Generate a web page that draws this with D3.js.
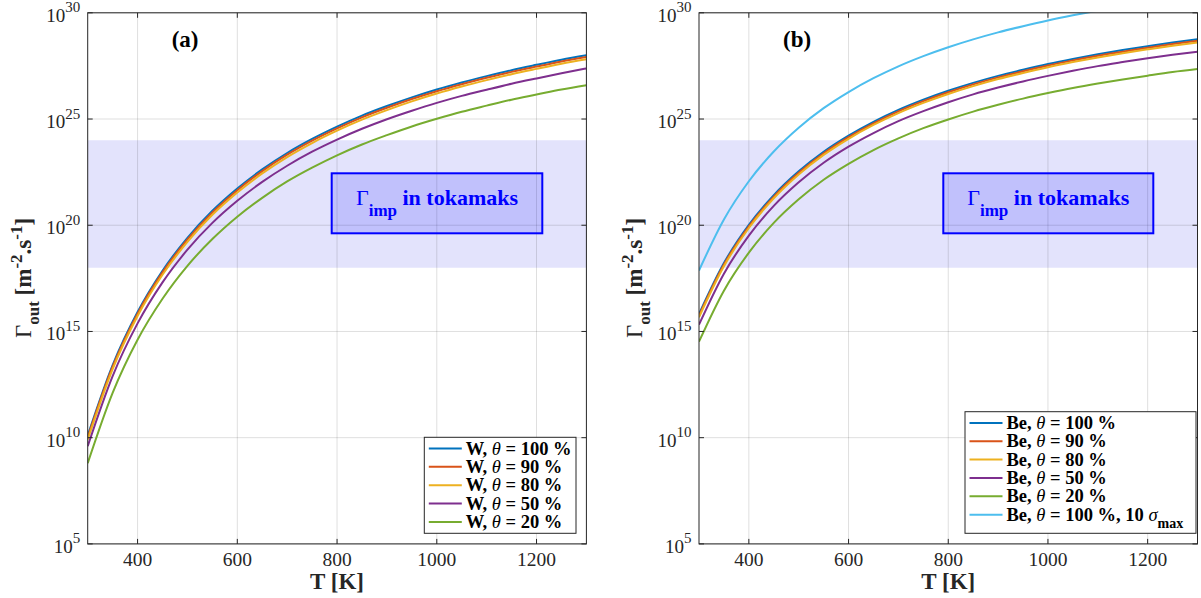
<!DOCTYPE html>
<html>
<head>
<meta charset="utf-8">
<script src="https://cdn.jsdelivr.net/npm/d3@7"></script>
<style>
  html, body { margin: 0; padding: 0; background: #fff; }
  svg { display: block; font-family: "Liberation Serif", "DejaVu Serif", serif; }
</style>
</head>
<body>
<svg id="chart" width="1201" height="598"></svg>
<script>
// temperature grid [K]
const temps = [300, 350, 400, 450, 500, 550, 600, 650, 700, 750, 800, 850, 900, 950, 1000, 1050, 1100, 1150, 1200, 1250, 1300];

// log10 of Gamma_out [m^-2 s^-1] — panel (a), W
const w100 = [10.10, 13.42, 15.92, 17.86, 19.41, 20.68, 21.73, 22.63, 23.40, 24.06, 24.64, 25.16, 25.61, 26.02, 26.39, 26.72, 27.02, 27.30, 27.55, 27.79, 28.00];
const w90  = [10.02, 13.34, 15.84, 17.78, 19.33, 20.60, 21.65, 22.55, 23.32, 23.98, 24.56, 25.08, 25.53, 25.94, 26.31, 26.64, 26.94, 27.22, 27.47, 27.71, 27.92];
const w80  = [9.91, 13.23, 15.73, 17.67, 19.22, 20.49, 21.54, 22.44, 23.21, 23.87, 24.45, 24.97, 25.42, 25.83, 26.20, 26.53, 26.83, 27.11, 27.36, 27.60, 27.81];
const w50  = [9.60, 12.90, 15.38, 17.31, 18.85, 20.11, 21.15, 22.04, 22.80, 23.46, 24.03, 24.54, 24.99, 25.39, 25.76, 26.09, 26.38, 26.66, 26.91, 27.15, 27.38];
const w20  = [8.80, 12.11, 14.61, 16.54, 18.09, 19.35, 20.40, 21.29, 22.06, 22.71, 23.29, 23.80, 24.24, 24.65, 25.01, 25.34, 25.63, 25.91, 26.15, 26.39, 26.59];

// panel (b), Be
const be100 = [15.82, 18.22, 20.02, 21.42, 22.54, 23.46, 24.22, 24.87, 25.43, 25.91, 26.33, 26.70, 27.03, 27.32, 27.59, 27.83, 28.05, 28.25, 28.43, 28.60, 28.75];
const be90  = [15.75, 18.15, 19.95, 21.35, 22.47, 23.39, 24.15, 24.80, 25.36, 25.84, 26.26, 26.63, 26.96, 27.25, 27.52, 27.76, 27.98, 28.17, 28.36, 28.53, 28.68];
const be80  = [15.67, 18.07, 19.87, 21.27, 22.39, 23.31, 24.07, 24.72, 25.28, 25.76, 26.18, 26.55, 26.88, 27.17, 27.44, 27.68, 27.90, 28.10, 28.28, 28.45, 28.60];
const be50  = [15.32, 17.72, 19.51, 20.91, 22.02, 22.94, 23.70, 24.34, 24.90, 25.37, 25.79, 26.16, 26.48, 26.77, 27.03, 27.27, 27.49, 27.68, 27.86, 28.02, 28.17];
const be20  = [14.52, 16.92, 18.71, 20.11, 21.22, 22.14, 22.89, 23.54, 24.09, 24.57, 24.98, 25.35, 25.67, 25.96, 26.22, 26.46, 26.67, 26.86, 27.04, 27.21, 27.35];
const be100x10 = [17.87, 20.27, 22.07, 23.47, 24.59, 25.51, 26.27, 26.92, 27.48, 27.96, 28.38, 28.75, 29.08, 29.37, 29.64, 29.88, 30.10, 30.30, 30.48, 30.65, 30.80];

const xTicks = [400, 600, 800, 1000, 1200];
const yTickExp = [5, 10, 15, 20, 25, 30];
const bandExp = [18, 24]; // impurity flux range in tokamaks

const COLORS = ['#0072BD', '#D95319', '#EDB120', '#7E2F8E', '#77AC30', '#4DBEEE'];

const svg = d3.select('#chart');
const TOP = 12.8, BOTTOM = 543.9;

const panels = [
  {
    id: 'a', left: 87.7, right: 586.4, tag: '(a)',
    series: [
      { name: 'W', th: '100', v: w100 },
      { name: 'W', th: '90', v: w90 },
      { name: 'W', th: '80', v: w80 },
      { name: 'W', th: '50', v: w50 },
      { name: 'W', th: '20', v: w20 },
    ],
    legend: { x: 424.3, y: 437.3, w: 151.7, h: 96 },
    box: { x: 331.7, w: 210.6 },
  },
  {
    id: 'b', left: 699, right: 1197.5, tag: '(b)',
    series: [
      { name: 'Be', th: '100', v: be100 },
      { name: 'Be', th: '90', v: be90 },
      { name: 'Be', th: '80', v: be80 },
      { name: 'Be', th: '50', v: be50 },
      { name: 'Be', th: '20', v: be20 },
      { name: 'Be', th: '100', v: be100x10, sigma: true },
    ],
    legend: { x: 965, y: 411.7, w: 231, h: 121.6 },
    box: { x: 943.3, w: 210 },
  },
];

panels.forEach(drawPanel);

function drawPanel(p) {
  const x = d3.scaleLinear().domain([300, 1300]).range([p.left, p.right]);
  const y = d3.scaleLog().domain([1e5, 1e30]).range([BOTTOM, TOP]);
  const g = svg.append('g');

  g.append('clipPath').attr('id', 'clip-' + p.id)
    .append('rect').attr('x', p.left).attr('y', TOP)
    .attr('width', p.right - p.left).attr('height', BOTTOM - TOP);

  // shaded band
  g.append('rect')
    .attr('x', p.left).attr('width', p.right - p.left)
    .attr('y', y(Math.pow(10, bandExp[1])))
    .attr('height', y(Math.pow(10, bandExp[0])) - y(Math.pow(10, bandExp[1])))
    .attr('fill', '#e3e3fc');

  // grid
  const grid = g.append('g').attr('stroke', '#262626').attr('stroke-opacity', 0.15).attr('stroke-width', 1);
  xTicks.forEach((t) => {
    grid.append('line').attr('x1', x(t)).attr('x2', x(t)).attr('y1', TOP).attr('y2', BOTTOM);
  });
  yTickExp.forEach((e) => {
    grid.append('line').attr('x1', p.left).attr('x2', p.right)
      .attr('y1', y(Math.pow(10, e))).attr('y2', y(Math.pow(10, e)));
  });

  // curves
  const line = d3.line()
    .x((d) => x(d[0]))
    .y((d) => y(Math.pow(10, d[1])))
    .curve(d3.curveMonotoneX);
  const curves = g.append('g').attr('clip-path', `url(#clip-${p.id})`);
  p.series.forEach((s, i) => {
    curves.append('path')
      .datum(temps.map((t, k) => [t, s.v[k]]))
      .attr('d', line)
      .attr('fill', 'none')
      .attr('stroke', COLORS[i])
      .attr('stroke-width', 2);
  });

  // text box
  const by = 173.3, bh = 60;
  g.append('rect')
    .attr('x', p.box.x).attr('y', by).attr('width', p.box.w).attr('height', bh)
    .attr('fill', '#0000ff').attr('fill-opacity', 0.15)
    .attr('stroke', '#0000ff').attr('stroke-width', 2);
  const bt = g.append('text')
    .attr('x', p.box.x + p.box.w / 2).attr('y', 205)
    .attr('text-anchor', 'middle')
    .attr('fill', '#0000ff').attr('font-size', 22).attr('font-weight', 'bold');
  bt.append('tspan').attr('font-weight', 'normal').text('Γ');
  bt.append('tspan').attr('font-size', 17).attr('dy', 11).text('imp');
  bt.append('tspan').attr('dy', -11).text(' in tokamaks');

  // axes frame
  const frame = g.append('g').attr('stroke', '#262626').attr('stroke-width', 1).attr('fill', 'none');
  frame.append('rect').attr('x', p.left).attr('y', TOP)
    .attr('width', p.right - p.left).attr('height', BOTTOM - TOP);
  xTicks.forEach((t) => {
    frame.append('line').attr('x1', x(t)).attr('x2', x(t)).attr('y1', BOTTOM).attr('y2', BOTTOM - 5);
    frame.append('line').attr('x1', x(t)).attr('x2', x(t)).attr('y1', TOP).attr('y2', TOP + 5);
  });
  yTickExp.forEach((e) => {
    const yy = y(Math.pow(10, e));
    frame.append('line').attr('x1', p.left).attr('x2', p.left + 5).attr('y1', yy).attr('y2', yy);
    frame.append('line').attr('x1', p.right).attr('x2', p.right - 5).attr('y1', yy).attr('y2', yy);
  });

  // tick labels
  xTicks.forEach((t) => {
    g.append('text').attr('x', x(t)).attr('y', 566)
      .attr('text-anchor', 'middle').attr('font-size', 19.5).attr('fill', '#262626')
      .text(t);
  });
  yTickExp.forEach((e) => {
    const tx = g.append('text').attr('x', p.left - 7.5).attr('y', y(Math.pow(10, e)) + 9)
      .attr('text-anchor', 'end').attr('font-size', 19).attr('fill', '#262626');
    tx.append('tspan').text('10');
    tx.append('tspan').attr('font-size', 15).attr('dy', -9.5).text(e);
  });

  // axis labels
  g.append('text').attr('x', (p.left + p.right) / 2).attr('y', 589)
    .attr('text-anchor', 'middle').attr('font-size', 23).attr('font-weight', 'bold')
    .attr('fill', '#262626').text('T [K]');
  const yl = g.append('text')
    .attr('transform', `translate(${p.left - 57},278) rotate(-90)`)
    .attr('text-anchor', 'middle').attr('font-size', 23).attr('font-weight', 'bold')
    .attr('fill', '#262626');
  yl.append('tspan').attr('font-weight', 'normal').text('Γ');
  yl.append('tspan').attr('font-size', 17).attr('dy', 8).text('out');
  yl.append('tspan').attr('dy', -8).text(' [m');
  yl.append('tspan').attr('font-size', 17).attr('dy', -9).text('-2');
  yl.append('tspan').attr('dy', 9).text('.s');
  yl.append('tspan').attr('font-size', 17).attr('dy', -9).text('-1');
  yl.append('tspan').attr('dy', 9).text(']');

  // panel tag
  g.append('text').attr('x', p.left + 84).attr('y', 47)
    .attr('font-size', 23).attr('font-weight', 'bold').attr('fill', '#000')
    .text(p.tag);

  // legend
  const L = p.legend;
  const lg = g.append('g');
  lg.append('rect').attr('x', L.x).attr('y', L.y).attr('width', L.w).attr('height', L.h)
    .attr('fill', '#fff').attr('stroke', '#262626').attr('stroke-width', 1);
  p.series.forEach((s, i) => {
    const cy = L.y + 11.2 + i * 18.35;
    lg.append('line').attr('x1', L.x + 4.5).attr('x2', L.x + 37.5)
      .attr('y1', cy).attr('y2', cy)
      .attr('stroke', COLORS[i]).attr('stroke-width', 2);
    const t = lg.append('text').attr('x', L.x + 41.5).attr('y', cy + 6)
      .attr('font-size', 18.5).attr('font-weight', 'bold').attr('fill', '#000');
    t.append('tspan').text(s.name + ', ');
    t.append('tspan').attr('font-style', 'italic').attr('font-weight', 'normal').text('θ');
    t.append('tspan').text(' = ' + s.th + ' %' + (s.sigma ? ', 10 ' : ''));
    if (s.sigma) {
      t.append('tspan').attr('font-style', 'italic').attr('font-weight', 'normal').text('σ');
      t.append('tspan').attr('font-size', 14).attr('dy', 7).text('max');
    }
  });
}
</script>
</body>
</html>
